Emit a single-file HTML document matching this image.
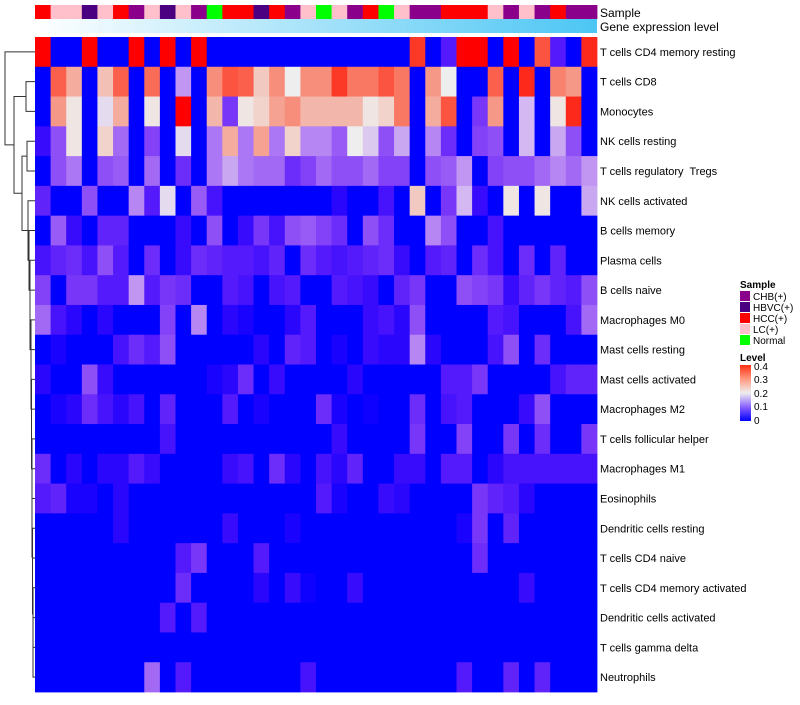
<!DOCTYPE html>
<html><head><meta charset="utf-8">
<style>
body{margin:0;background:#fff;}
svg text{font-family:"Liberation Sans",sans-serif;}
</style></head>
<body>
<svg id="chart" width="800" height="700" xmlns="http://www.w3.org/2000/svg">
<rect width="800" height="700" fill="#fff"/>
<defs>
<linearGradient id="geneGrad" x1="0" x2="1" y1="0" y2="0"><stop offset="0" stop-color="#ffffff"/><stop offset="1" stop-color="#4cc6f4"/></linearGradient>
<linearGradient id="levelGrad" x1="0" x2="0" y1="1" y2="0"><stop offset="0" stop-color="#0000ff"/><stop offset="0.25" stop-color="#8a60ff"/><stop offset="0.5" stop-color="#eeeeee"/><stop offset="0.75" stop-color="#ff9a80"/><stop offset="1" stop-color="#ff3010"/></linearGradient>
</defs>
<g id="annot"></g>
<rect x="35" y="19" width="562" height="14" fill="url(#geneGrad)"/>
<text x="600" y="17" font-size="12">Sample</text>
<text x="600" y="31" font-size="12">Gene expression level</text>
<g id="cells"></g>
<g id="rowlabels"></g>
<g id="dendro" stroke="#333" stroke-width="1" fill="none"></g>
<g id="legend">
<text x="740" y="288" font-size="10" font-weight="bold">Sample</text>
</g>
<g>
<text x="740" y="361" font-size="10" font-weight="bold">Level</text>
<rect x="740" y="365" width="11" height="56" fill="url(#levelGrad)"/>
<text x="754" y="370" font-size="10">0.4</text>
<text x="754" y="383" font-size="10">0.3</text>
<text x="754" y="397" font-size="10">0.2</text>
<text x="754" y="410" font-size="10">0.1</text>
<text x="754" y="424" font-size="10">0</text>
</g>
</svg>
<script>
const rowNames=["T cells CD4 memory resting","T cells CD8","Monocytes","NK cells resting","T cells regulatory  Tregs","NK cells activated","B cells memory","Plasma cells","B cells naive","Macrophages M0","Mast cells resting","Mast cells activated","Macrophages M2","T cells follicular helper","Macrophages M1","Eosinophils","Dendritic cells resting","T cells CD4 naive","T cells CD4 memory activated","Dendritic cells activated","T cells gamma delta","Neutrophils"];
const samples=["HCC","LC","LC","HBVC","LC","HCC","CHB","LC","HBVC","LC","CHB","Normal","HCC","HCC","HBVC","HCC","CHB","LC","Normal","LC","CHB","HCC","Normal","LC","CHB","CHB","HCC","HCC","HCC","LC","CHB","LC","CHB","HCC","CHB","CHB"];
const legendLabels=["CHB(+)","HBVC(+)","HCC(+)","LC(+)","Normal"];
const r1=[.5,0,0,.5,0,0,.5,0,.5,0,.5,0,0,0,0,0,0,0,0,0,0,0,0,0,.37,0,.05,.5,.5,0,.5,0,.35,.05,0,.38];
const r2=[0,.34,.27,0,.25,.34,0,.33,0,.15,0,.3,.35,.34,.24,.3,.2,.3,.3,.37,.32,.32,.35,.32,0,.29,.2,0,0,.34,0,.38,0,.31,.29,0];
const r3=[0,.29,.21,0,.19,.27,0,.21,0,.5,0,.26,.08,.21,.23,.28,.3,.26,.26,.26,.26,.21,.23,.32,0,.27,.35,0,.08,.29,0,.17,0,.21,.38,0];
const r4=[.03,.1,.21,0,.23,.12,0,.09,0,.19,0,.13,.27,.13,.28,.13,.23,.14,.14,.11,.2,.18,.1,.16,0,.14,.07,0,.09,.1,0,.17,0,.16,.1,0];
const r5=[0,.1,.13,0,.1,.11,0,.12,0,.07,0,.13,.16,.13,.12,.12,.07,.09,.12,.1,.1,.12,.09,.09,0,.1,.11,.15,0,.09,.1,.1,.12,.14,.12,.15];
const r6=[.06,0,0,.1,0,0,.14,.05,.19,0,.11,.04,0,0,0,0,0,0,0,.02,0,0,.04,0,.24,0,.08,.17,.03,0,.21,0,.21,0,0,.16];
const r7=[0,.11,.03,0,.06,.06,0,0,0,.03,0,.1,0,.03,.08,.04,.1,.11,.09,.07,0,.1,.07,0,0,.14,.1,0,0,.04,0,0,0,0,0,0];
const r8=[.04,.06,.07,.04,.1,.05,0,.07,0,.03,.07,.06,.05,.05,.04,.06,0,.07,.05,.04,.05,.06,.07,.03,0,.05,.06,0,.07,.04,0,.07,0,.06,0,0];
const r9=[.09,0,.08,.08,.05,.05,.15,.05,.08,.07,0,0,.05,.04,0,.04,.05,0,0,.05,.04,.03,0,.06,.08,0,0,.1,.09,.08,.03,.06,.08,.06,.05,.1];
const r10=[.12,.04,.02,0,.02,0,0,0,.09,0,.14,0,.02,.01,0,0,.02,.05,0,0,0,.03,.04,.02,.1,0,0,0,0,.05,.04,0,0,0,.04,.12];
const r11=[0,.01,0,0,0,.04,.07,.05,.1,0,0,0,0,0,.02,0,.06,.05,0,.01,0,.03,.02,.02,.14,.02,0,0,0,.04,.1,0,.07,0,0,0];
const r12=[.02,0,0,.1,.03,0,0,0,0,0,0,.01,.02,.07,0,.03,0,0,0,0,.02,0,0,0,0,0,.05,.05,.08,0,0,0,0,.04,.06,.06];
const r13=[0,.01,.02,.07,.04,.02,.04,0,.06,0,0,0,.05,0,.01,0,0,0,.07,.01,0,.005,0,0,.07,0,.04,.05,0,0,0,.03,.1,0,0,0];
const r14=[0,0,0,0,0,0,0,0,.04,0,0,0,0,0,0,0,0,0,0,.03,0,0,0,0,.08,0,0,.09,0,0,.08,0,.07,0,0,.08];
const r15=[.07,0,.02,0,.02,.02,.05,.03,0,0,0,0,.03,.04,0,.07,.02,0,.04,.02,.06,0,0,.03,.03,0,.05,.05,0,.02,.04,.04,.04,.04,.04,.04];
const r16=[.05,.06,.01,.01,0,.02,0,0,0,0,0,0,0,0,0,0,0,0,.05,.01,0,0,.03,.02,0,0,0,0,.08,.06,.05,.02,0,0,0,0];
const r17=[0,0,0,0,0,.02,0,0,0,0,0,0,.03,0,0,0,.01,0,0,0,0,0,0,0,0,0,0,.01,.08,0,.06,0,0,0,0,0];
const r18=[0,0,0,0,0,0,0,0,0,.05,.08,0,0,0,.05,0,0,0,0,0,0,0,0,0,0,0,0,0,.07,0,0,0,0,0,0,0];
const r19=[0,0,0,0,0,0,0,0,0,.07,0,0,0,0,.02,0,.03,.005,0,0,.03,0,0,0,0,0,0,0,0,0,0,.03,0,0,0,0];
const r20=[0,0,0,0,0,0,0,0,.05,0,.05,0,0,0,0,0,0,0,0,0,0,0,0,0,0,0,0,0,0,0,0,0,0,0,0,0];
const r21=[0,0,0,0,0,0,0,0,0,0,0,0,0,0,0,0,0,0,0,0,0,0,0,0,0,0,0,0,0,0,0,0,0,0,0,0];
const r22=[0,0,0,0,0,0,0,.12,0,.05,0,0,0,0,0,0,0,.04,0,0,0,0,0,0,0,0,0,.05,0,0,.06,0,.06,0,0,0];
const values=[r1,r2,r3,r4,r5,r6,r7,r8,r9,r10,r11,r12,r13,r14,r15,r16,r17,r18,r19,r20,r21,r22];

const NS="http://www.w3.org/2000/svg";
const X0=35,X1=597,Y0=37,Y1=692;
const nC=samples.length,nR=rowNames.length;
const cw=(X1-X0)/nC,rh=(Y1-Y0)/nR;
const xPos=i=>X0+i*cw, yPos=j=>Y0+j*rh;
const sampleColor={CHB:"#8b008b",HBVC:"#4b0082",HCC:"#ff0000",LC:"#ffc0cb",Normal:"#00ff00"};
function col(v){
  let t=Math.max(0,Math.min(0.4,v));
  let r,g,b;
  if(t<=0.2){const s=t/0.2;r=238*Math.pow(s,0.75);g=238*Math.pow(s,1.6);b=255-17*s;}
  else{const s=(t-0.2)/0.2;r=238+17*s;g=238*Math.pow(1-s,0.75);b=238*Math.pow(1-s,0.95);}
  return `rgb(${Math.round(r)},${Math.round(g)},${Math.round(b)})`;
}
function mk(tag,attrs,parent){const e=document.createElementNS(NS,tag);for(const k in attrs)e.setAttribute(k,attrs[k]);parent.appendChild(e);return e;}
const annot=document.getElementById('annot');
samples.forEach((s,i)=>{
  const r=mk('rect',{x:xPos(i),y:5,width:cw+0.4,height:14,fill:sampleColor[s]},annot);
  
  
});
const cells=document.getElementById('cells');
values.forEach((row,j)=>row.forEach((v,i)=>{
  const r=mk('rect',{x:xPos(i),y:yPos(j),width:cw+0.4,height:rh+0.4,fill:col(v)},cells);
  
  
}));
const rl=document.getElementById('rowlabels');
rowNames.forEach((n,j)=>{
  const t=mk('text',{x:600,y:yPos(j)+rh/2+4,'font-size':11,style:'white-space:pre'},rl);
  t.textContent=n;
  
  
});
const dg=document.getElementById('dendro');
const ym=j=>yPos(j)+rh/2;
function link(xa,ya,xb,yb,xp){
  const p=mk('path',{d:`M${xa},${ya}H${xp}V${yb}H${xb}`},dg);
  
  
  return (ya+yb)/2;
}
let cy=ym(21), cx=X0;
const chainX=[33,33,33,32.5,32.5,32,32,32,31.5,31.5,31,31,30,30,29,28];
for(let j=20,k=0;j>=5;j--,k++){
  const xp=chainX[k];
  cy=link(X0,ym(j),cx,cy,xp);cx=xp;
}
const yA=link(X0,ym(1),X0,ym(2),26);
const yB=link(X0,ym(3),X0,ym(4),27);
const yC=link(27,yB,cx,cy,22);
const yE=link(26,yA,22,yC,14);
link(X0,ym(0),14,yE,5);
const lg=document.getElementById('legend');
const legKeys=["CHB","HBVC","HCC","LC","Normal"];
legKeys.forEach((k,i)=>{
  const r=mk('rect',{x:740,y:291+i*11,width:10,height:10,fill:sampleColor[k]},lg);
  
  
  const t=mk('text',{x:753,y:300+i*11,'font-size':10},lg);
  t.textContent=legendLabels[i];
  
  
});
</script>
</body></html>
